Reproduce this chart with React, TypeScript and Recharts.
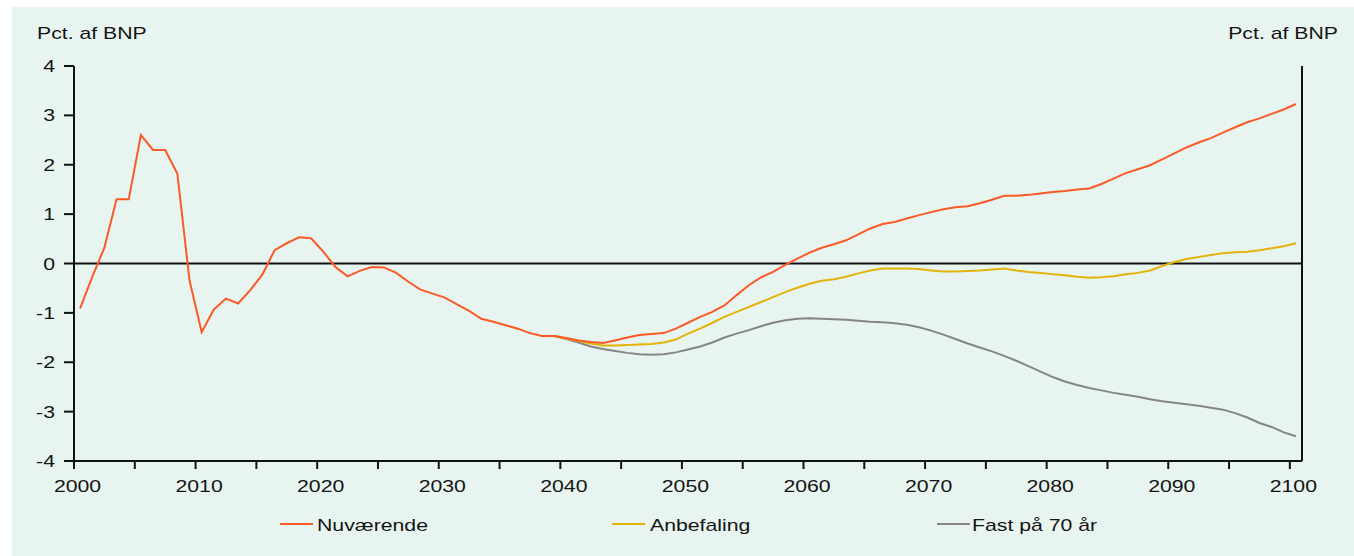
import React from 'react';
import { LineChart, Line, XAxis, YAxis, ReferenceLine, Legend } from 'recharts';

const years = [
  2000, 2001, 2002, 2003, 2004, 2005, 2006, 2007, 2008, 2009,
  2010, 2011, 2012, 2013, 2014, 2015, 2016, 2017, 2018, 2019,
  2020, 2021, 2022, 2023, 2024, 2025, 2026, 2027, 2028, 2029,
  2030, 2031, 2032, 2033, 2034, 2035, 2036, 2037, 2038, 2039,
  2040, 2041, 2042, 2043, 2044, 2045, 2046, 2047, 2048, 2049,
  2050, 2051, 2052, 2053, 2054, 2055, 2056, 2057, 2058, 2059,
  2060, 2061, 2062, 2063, 2064, 2065, 2066, 2067, 2068, 2069,
  2070, 2071, 2072, 2073, 2074, 2075, 2076, 2077, 2078, 2079,
  2080, 2081, 2082, 2083, 2084, 2085, 2086, 2087, 2088, 2089,
  2090, 2091, 2092, 2093, 2094, 2095, 2096, 2097, 2098, 2099,
  2100,
];

// Nuværende, 2000-2100
const nuvaerende = [
  -0.91, -0.27, 0.32, 1.30, 1.30, 2.60, 2.30, 2.30, 1.82, -0.34,
  -1.39, -0.93, -0.71, -0.81, -0.54, -0.22, 0.27, 0.41, 0.53, 0.51,
  0.24, -0.07, -0.26, -0.15, -0.07, -0.08, -0.19, -0.37, -0.53, -0.61,
  -0.69, -0.83, -0.96, -1.12, -1.18, -1.25, -1.32, -1.41, -1.47, -1.47,
  -1.51, -1.56, -1.59, -1.61, -1.56, -1.50, -1.45, -1.43, -1.41, -1.32,
  -1.20, -1.08, -0.98, -0.85, -0.64, -0.44, -0.28, -0.17, -0.03, 0.10,
  0.22, 0.32, 0.39, 0.47, 0.59, 0.71, 0.80, 0.84, 0.91, 0.98,
  1.04, 1.10, 1.14, 1.16, 1.22, 1.29, 1.37, 1.37, 1.39, 1.42,
  1.45, 1.47, 1.50, 1.52, 1.61, 1.72, 1.83, 1.91, 1.99, 2.11,
  2.23, 2.35, 2.45, 2.54, 2.65, 2.76, 2.86, 2.94, 3.03, 3.12,
  3.23,
];

const scenarioStartYear = 2039;

// Anbefaling, 2039-2100
const anbefaling = [
  -1.47,
  -1.52, -1.57, -1.62, -1.66, -1.66, -1.65, -1.64, -1.63, -1.60, -1.54,
  -1.42, -1.32, -1.20, -1.08, -0.98, -0.88, -0.78, -0.68, -0.58, -0.49,
  -0.41, -0.35, -0.32, -0.27, -0.20, -0.14, -0.10, -0.10, -0.10, -0.11,
  -0.14, -0.16, -0.16, -0.15, -0.14, -0.12, -0.10, -0.14, -0.17, -0.19,
  -0.22, -0.24, -0.27, -0.29, -0.28, -0.26, -0.22, -0.19, -0.14, -0.05,
  0.03, 0.09, 0.13, 0.17, 0.21, 0.23, 0.24, 0.27, 0.31, 0.35,
  0.41,
];

// Fast på 70 år, 2039-2100
const fast70 = [
  -1.47,
  -1.53, -1.60, -1.68, -1.73, -1.77, -1.81, -1.84, -1.85, -1.84, -1.80,
  -1.74, -1.68, -1.60, -1.50, -1.42, -1.35, -1.27, -1.20, -1.15, -1.12,
  -1.11, -1.12, -1.13, -1.14, -1.16, -1.18, -1.19, -1.21, -1.24, -1.29,
  -1.36, -1.44, -1.53, -1.62, -1.70, -1.78, -1.87, -1.97, -2.08, -2.19,
  -2.30, -2.39, -2.46, -2.52, -2.57, -2.62, -2.66, -2.70, -2.75, -2.79,
  -2.82, -2.85, -2.88, -2.92, -2.96, -3.03, -3.12, -3.23, -3.31, -3.42,
  -3.50,
];

const xTicks = [
  2000, 2005, 2010, 2015, 2020, 2025, 2030, 2035, 2040, 2045, 2050,
  2055, 2060, 2065, 2070, 2075, 2080, 2085, 2090, 2095, 2100,
];
const yTicks = [-4, -3, -2, -1, 0, 1, 2, 3, 4];
const seriesNames = ['Nuværende', 'Anbefaling', 'Fast på 70 år'];
const seriesColors = ['#fb5a26', '#e3b30a', '#858585'];
const yTitle = 'Pct. af BNP';

const data = years.map((year, i) => {
  const k = year - scenarioStartYear;
  return {
    x: year + 0.5,
    nuv: nuvaerende[i],
    anb: k >= 0 ? anbefaling[k] : null,
    fast: k >= 0 ? fast70[k] : null,
  };
});

const FONT = '"Liberation Sans", Arial, sans-serif';
const TXT = '#141414';
const FS = 17;
const SX = 1.25;

const XTick = (props: any) => {
  const { x, y, payload } = props;
  if (payload.value % 10 !== 0) return <g />;
  return (
    <g transform={`translate(${x + 3.5},${y}) scale(${SX},1)`}>
      <text x={0} y={0} dy="0.71em" textAnchor="middle" fontSize={FS} fontFamily={FONT} fill={TXT}>
        {payload.value}
      </text>
    </g>
  );
};

const YTickLeft = (props: any) => {
  const { x, y, payload } = props;
  return (
    <g transform={`translate(${x},${y}) scale(${SX},1)`}>
      <text x={0} y={0} dy="0.355em" textAnchor="end" fontSize={FS} fontFamily={FONT} fill={TXT}>
        {payload.value}
      </text>
    </g>
  );
};

const YTickRight = (props: any) => {
  const { x, y, payload } = props;
  return (
    <g transform={`translate(${x},${y}) scale(${SX},1)`}>
      <text x={0} y={0} dy="0.355em" textAnchor="start" fontSize={FS} fontFamily={FONT} fill={TXT}>
        {payload.value}
      </text>
    </g>
  );
};

const legendPos = [
  { line: 280, text: 317 },
  { line: 612, text: 650 },
  { line: 937, text: 972 },
];

const renderLegend = () => (
  <svg width={1354} height={30} style={{ display: 'block' }}>
    {seriesNames.map((name, i) => (
      <g key={name}>
        <line x1={legendPos[i].line} x2={legendPos[i].line + 33} y1={14} y2={14} stroke={seriesColors[i]} strokeWidth={2} />
        <g transform={`translate(${legendPos[i].text},21) scale(${SX},1)`}>
          <text x={0} y={0} fontSize={FS} fontFamily={FONT} fill={TXT}>{name}</text>
        </g>
      </g>
    ))}
  </svg>
);

const axisStroke = { stroke: '#111', strokeWidth: 2 };

export default function App() {
  return (
    <div style={{ position: 'absolute', left: 0, top: 0, width: 1354, height: 556, background: '#fff' }}>
      <div style={{ position: 'absolute', left: 12, top: 7, width: 1342, height: 549, background: '#e8f4f0' }} />
      <div style={{ position: 'absolute', left: 0, top: 0 }}>
        <LineChart width={1354} height={556} data={data} margin={{ top: 66, right: 0, bottom: 65, left: 0 }}>
          <XAxis
            type="number"
            dataKey="x"
            domain={[2000, 2101]}
            allowDataOverflow
            ticks={xTicks}
            interval={0}
            height={30}
            tickSize={8}
            tickMargin={11}
            axisLine={axisStroke}
            tickLine={axisStroke}
            tick={XTick}
          />
          <YAxis
            yAxisId="left"
            orientation="left"
            domain={[-4, 4]}
            ticks={yTicks}
            interval={0}
            width={74}
            tickSize={10}
            tickMargin={9}
            axisLine={axisStroke}
            tickLine={axisStroke}
            tick={YTickLeft}
            label={{
              content: () => (
                <g transform={`translate(37,39) scale(${SX},1)`}>
                  <text x={0} y={0} fontSize={FS} fontFamily={FONT} fill={TXT}>{yTitle}</text>
                </g>
              ),
            }}
          />
          <YAxis
            yAxisId="right"
            orientation="right"
            domain={[-4, 4]}
            ticks={yTicks}
            interval={0}
            width={52}
            tickSize={10}
            tickMargin={7}
            axisLine={axisStroke}
            tickLine={axisStroke}
            tick={YTickRight}
            label={{
              content: () => (
                <g transform={`translate(1338,39) scale(${SX},1)`}>
                  <text x={0} y={0} textAnchor="end" fontSize={FS} fontFamily={FONT} fill={TXT}>{yTitle}</text>
                </g>
              ),
            }}
          />
          <ReferenceLine yAxisId="left" y={0} stroke="#111" strokeWidth={2} />
          <Line yAxisId="left" type="linear" dataKey="fast" name={seriesNames[2]} stroke={seriesColors[2]} strokeWidth={2} dot={false} isAnimationActive={false} connectNulls={false} />
          <Line yAxisId="left" type="linear" dataKey="anb" name={seriesNames[1]} stroke={seriesColors[1]} strokeWidth={2} dot={false} isAnimationActive={false} connectNulls={false} />
          <Line yAxisId="left" type="linear" dataKey="nuv" name={seriesNames[0]} stroke={seriesColors[0]} strokeWidth={2} dot={false} isAnimationActive={false} />
          <Legend
            layout="horizontal"
            verticalAlign="middle"
            align="center"
            wrapperStyle={{ top: 510, left: 0, width: 1354, height: 30 }}
            content={renderLegend}
          />
        </LineChart>
      </div>
    </div>
  );
}
